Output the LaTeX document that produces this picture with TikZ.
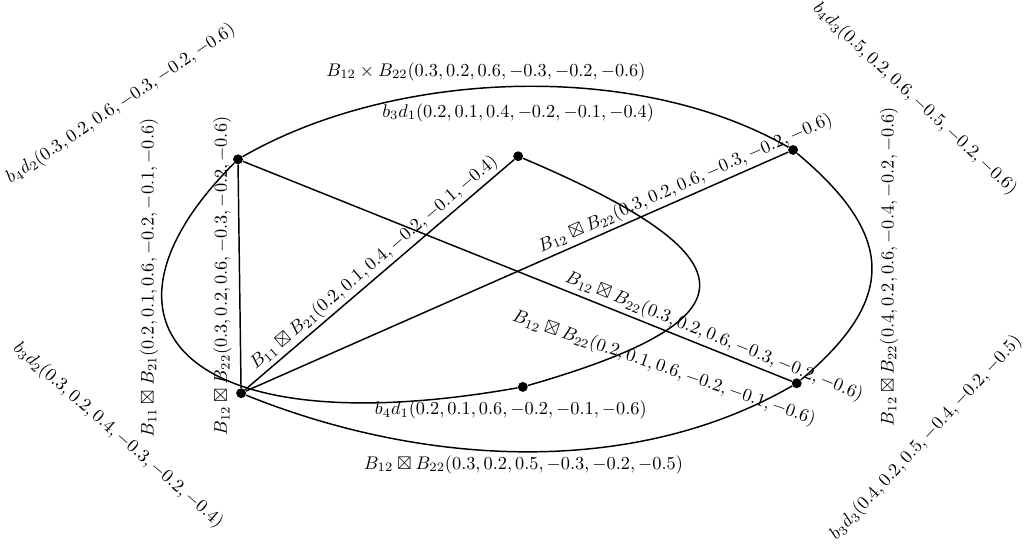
\documentclass[tikz,border=0pt]{standalone}
\usepackage{amsmath,amssymb}
\usepackage{tikz}
\usetikzlibrary{positioning}

\begin{document}
\begin{tikzpicture}[
    vertex/.style={circle, fill=black, inner sep=0pt, minimum size=1.9mm},
    edge/.style={line width=0.8pt},
    lbl/.style={inner sep=1.5pt}
]
\useasboundingbox (0,0) rectangle (19.76,10.64);

% Vertices
\node[vertex] (a) at (4.57,7.58) {};
\node[vertex] (b) at (4.63,3.09) {};
\node[vertex] (c) at (9.95,7.64) {};
\node[vertex] (d) at (10.04,3.21) {};
\node[vertex] (e) at (15.23,7.76) {};
\node[vertex] (f) at (15.30,3.28) {};

% Vertex labels
\node[lbl, above=0.5cm of c] (c-lab) {$b_3d_1(0.2,0.1,0.4,-0.2,-0.1,-0.4)$};
\node[lbl, below=0.1cm of d, xshift=-0.23cm] (d-lab) {$b_4d_1(0.2,0.1,0.6,-0.2,-0.1,-0.6)$};
\node[lbl, rotate=34] (a-lab) at (2.32,8.64) {$b_4d_2(0.3,0.2,0.6,-0.3,-0.2,-0.6)$};
\node[lbl, rotate=-43] (e-lab) at (17.57,8.74) {$b_4d_3(0.5,0.2,0.6,-0.5,-0.2,-0.6)$};
\node[lbl, rotate=-41] (b-lab) at (2.27,2.28) {$b_3d_2(0.3,0.2,0.4,-0.3,-0.2,-0.4)$};
\node[lbl, rotate=47] (f-lab) at (17.78,2.23) {$b_3d_3(0.4,0.2,0.5,-0.4,-0.2,-0.5)$};

% Straight edges
\draw[edge] (b) -- (a) node[midway, lbl, rotate=90, anchor=south, inner sep=4pt] (ab-lab) {$B_{12}\boxtimes B_{22}(0.3,0.2,0.6,-0.3,-0.2,-0.6)$};
\draw[edge] (b) -- (c) node[pos=0.51, lbl, above, sloped] (bc-lab) {$B_{11}\boxtimes B_{21}(0.2,0.1,0.4,-0.2,-0.1,-0.4)$};
\draw[edge] (b) -- (e) node[pos=0.82, lbl, above, sloped] (be-lab) {$B_{12}\boxtimes B_{22}(0.3,0.2,0.6,-0.3,-0.2,-0.6)$};
\draw[edge] (a) -- (f) node[pos=0.85, lbl, above, sloped] (af-lab) {$B_{12}\boxtimes B_{22}(0.3,0.2,0.6,-0.3,-0.2,-0.6)$};

% Curved edges
\draw[edge] (a) .. controls +(30:3.46) and +(150:3.46) .. (e)
    node[pos=0.45, lbl, above=2pt] (ae-lab) {$B_{12}\times B_{22}(0.3,0.2,0.6,-0.3,-0.2,-0.6)$};
\draw[edge] (f) .. controls +(40:2.54) and +(-40:2.54) .. (e)
    node[midway, lbl, rotate=90, anchor=north, inner sep=4pt] (ef-lab) {$B_{12}\boxtimes B_{22}(0.4,0.2,0.6,-0.4,-0.2,-0.6)$};
\draw[edge] (b) .. controls +(-22:3.69) and +(-150:3.69) .. (f)
    node[midway, lbl, below] (bf-lab) {$B_{12}\boxtimes B_{22}(0.3,0.2,0.5,-0.3,-0.2,-0.5)$};
\draw[edge] (c) .. controls +(-23:4.99) and +(16:4.70) .. (d);
\draw[edge] (a) .. controls +(225:4.4) and +(190:6.7) .. (d);

% Free labels
\node[lbl, rotate=90] (ad-lab) at (2.86,5.30) {$B_{11}\boxtimes B_{21}(0.2,0.1,0.6,-0.2,-0.1,-0.6)$};
\node[lbl, rotate=-19] (cd-lab) at (12.75,3.57) {$B_{12}\boxtimes B_{22}(0.2,0.1,0.6,-0.2,-0.1,-0.6)$};

\end{tikzpicture}
\end{document}
